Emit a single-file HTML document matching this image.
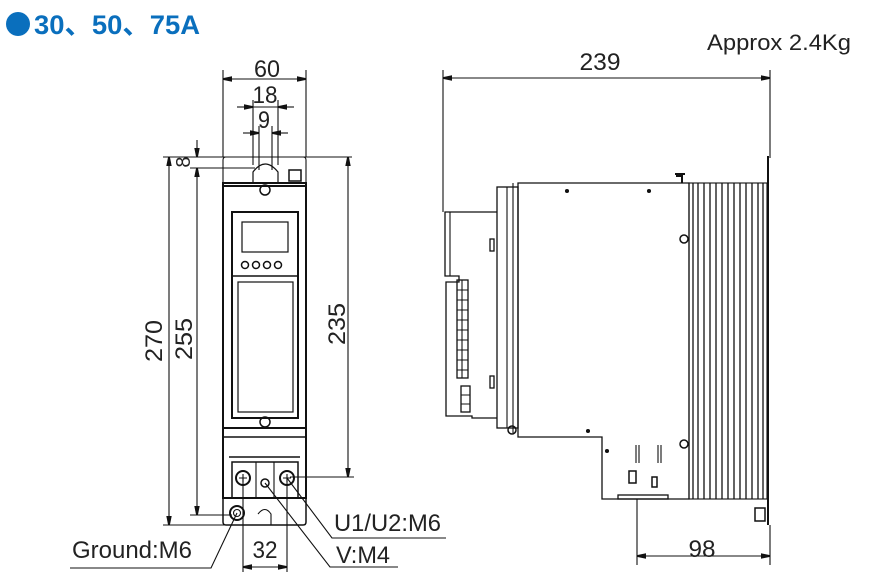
<!DOCTYPE html>
<html><head><meta charset="utf-8"><style>
html,body{margin:0;padding:0;background:#fff;}
svg{display:block;}
text{font-family:"Liberation Sans","Noto Sans CJK JP",sans-serif;fill:#222;}
</style></head><body>
<svg width="878" height="587" viewBox="0 0 878 587" xmlns="http://www.w3.org/2000/svg">
<defs>
<marker id="a" viewBox="0 0 10 6" refX="10" refY="3" markerWidth="9" markerHeight="6" orient="auto-start-reverse" markerUnits="userSpaceOnUse"><path d="M0,0L10,2L10,4L0,6z" fill="#111"/></marker>
</defs>
<!-- title -->
<circle cx="18" cy="24" r="12" fill="#0a6fbd"/>
<text x="34" y="34" font-size="27" font-weight="bold" style="fill:#0a6fbd" textLength="166" lengthAdjust="spacingAndGlyphs">30、50、75A</text>
<text x="707" y="50" font-size="22" textLength="144" lengthAdjust="spacingAndGlyphs">Approx 2.4Kg</text>

<g stroke="#111" fill="none" stroke-width="1.1">
<!-- FRONT VIEW dims -->
<line x1="223" y1="70" x2="223" y2="157"/><line x1="306" y1="70" x2="306" y2="157"/>
<line x1="223" y1="79" x2="306" y2="79" marker-start="url(#a)" marker-end="url(#a)"/>
<line x1="253" y1="100" x2="253" y2="165"/><line x1="278" y1="100" x2="278" y2="165"/>
<line x1="237" y1="107" x2="253" y2="107" marker-end="url(#a)"/><line x1="294" y1="107" x2="278" y2="107" marker-end="url(#a)"/>
<line x1="253" y1="107" x2="278" y2="107"/>
<line x1="259" y1="126" x2="259" y2="170"/><line x1="272" y1="126" x2="272" y2="170"/>
<line x1="243" y1="133" x2="259" y2="133" marker-end="url(#a)"/><line x1="288" y1="133" x2="272" y2="133" marker-end="url(#a)"/>
<line x1="163" y1="157" x2="352" y2="157"/>
<line x1="190" y1="168" x2="255" y2="168"/>
<line x1="197" y1="140" x2="197" y2="157" marker-end="url(#a)"/>
<line x1="197" y1="168" x2="197" y2="515" marker-start="url(#a)" marker-end="url(#a)"/>
<line x1="169" y1="157" x2="169" y2="525" marker-start="url(#a)" marker-end="url(#a)"/>
<line x1="163" y1="525" x2="235" y2="525"/>
<line x1="190" y1="515" x2="232" y2="515"/>
<line x1="348" y1="157" x2="348" y2="477" marker-start="url(#a)" marker-end="url(#a)"/>
<line x1="290" y1="477" x2="354" y2="477"/>
<!-- front body -->
<path d="M223,183 L223,160 Q223,157 226,157 L303,157 Q306,157 306,160 L306,183" />
<path d="M253,183 L253,172 Q265,156 278,172 L278,183" stroke-width="1.2"/>
<rect x="289" y="170" width="12" height="11" stroke-width="1.5"/>
<rect x="223" y="183" width="83" height="315" stroke-width="2"/>
<line x1="223" y1="186" x2="306" y2="186" stroke-width="2"/>
<circle cx="265" cy="190" r="5" stroke-width="1.5"/>
<rect x="232" y="212" width="66" height="206" stroke-width="2"/>
<rect x="242" y="222" width="46" height="30" stroke-width="1.2"/>
<circle cx="245" cy="265" r="3.5" stroke-width="1.5"/><circle cx="256" cy="265" r="3.5" stroke-width="1.5"/><circle cx="267" cy="265" r="3.5" stroke-width="1.5"/><circle cx="278" cy="265" r="3.5" stroke-width="1.5"/>
<line x1="232" y1="276" x2="298" y2="276" stroke-width="1.5"/>
<rect x="238" y="282" width="55" height="130" stroke-width="1.2"/>
<circle cx="265" cy="422" r="5" stroke-width="1.5"/>
<line x1="223" y1="428" x2="306" y2="428" stroke-width="2"/>
<line x1="223" y1="437" x2="306" y2="437" stroke-width="1.5"/>
<line x1="229" y1="457" x2="300" y2="457" stroke-width="1.5"/>
<rect x="232" y="462" width="66" height="36" stroke-width="1.5"/>
<line x1="256" y1="462" x2="256" y2="498"/><line x1="274" y1="462" x2="274" y2="498"/>
<circle cx="243" cy="478" r="7" stroke-width="2"/><path d="M239,478h8M243,474v8"/>
<circle cx="287" cy="478" r="7" stroke-width="2"/><path d="M283,478h8M287,474v8"/>
<circle cx="265" cy="483" r="4" stroke-width="1.5"/>
<path d="M223,498 L223,522 Q223,525 226,525 L303,525 Q306,525 306,522 L306,498" stroke-width="1.5"/>
<path d="M258,514 Q265,505 271,514 L271,525" />
<circle cx="237" cy="513" r="7" stroke-width="2"/><circle cx="237" cy="513" r="3.5"/>
<!-- 32 -->
<line x1="243" y1="478" x2="243" y2="572"/><line x1="287" y1="478" x2="287" y2="572"/>
<line x1="243" y1="567" x2="287" y2="567" marker-start="url(#a)" marker-end="url(#a)"/>
<!-- leaders -->
<polyline points="237,513 211,568 70,568"/>
<polyline points="265,483 330,567 398,567"/>
<polyline points="287,478 332,538 446,538"/>

<!-- SIDE VIEW -->
<line x1="443" y1="70" x2="443" y2="212"/><line x1="770" y1="70" x2="770" y2="158"/>
<line x1="443" y1="78" x2="770" y2="78" marker-start="url(#a)" marker-end="url(#a)"/>
<line x1="637" y1="499" x2="637" y2="565"/><line x1="770" y1="525" x2="770" y2="565"/>
<line x1="637" y1="556" x2="770" y2="556" marker-start="url(#a)" marker-end="url(#a)"/>
<line x1="768" y1="156" x2="768" y2="525" stroke-width="2"/>
<path d="M518,183 L689,183 L689,499 L602,499 L602,437 L518,437 Z" stroke-width="1.3"/>
<circle cx="567" cy="191" r="1.5" fill="#111"/><circle cx="649" cy="191" r="1.5" fill="#111"/>
<circle cx="588" cy="431" r="1.5" fill="#111"/><circle cx="607" cy="451" r="1.5" fill="#111"/>
<circle cx="684" cy="239" r="4" stroke-width="1.5"/><circle cx="684" cy="444" r="4" stroke-width="1.5"/>
<path d="M676,176 l6,0 l0,7 M675,174 h10" stroke-width="2"/>
<rect x="689" y="183" width="78" height="316"/>
<g stroke-width="1.3">
<line x1="693" y1="183" x2="693" y2="499"/><line x1="698" y1="183" x2="698" y2="499"/><line x1="704" y1="183" x2="704" y2="499"/><line x1="710" y1="183" x2="710" y2="499"/><line x1="716" y1="183" x2="716" y2="499"/><line x1="722" y1="183" x2="722" y2="499"/><line x1="728" y1="183" x2="728" y2="499"/><line x1="734" y1="183" x2="734" y2="499"/><line x1="740" y1="183" x2="740" y2="499"/><line x1="746" y1="183" x2="746" y2="499"/><line x1="752" y1="183" x2="752" y2="499"/><line x1="758" y1="183" x2="758" y2="499"/><line x1="763" y1="183" x2="763" y2="499"/>
</g>
<rect x="755" y="508" width="10" height="13" stroke-width="1.5"/>
<rect x="618" y="495" width="50" height="4" stroke-width="1.3"/>
<path d="M636,445v18M639,445v18M658,445v18M661,445v18"/>
<rect x="629" y="471" width="7" height="12" stroke-width="1.5"/><rect x="652" y="477" width="5" height="10" stroke-width="1.5"/>
<rect x="497" y="187" width="21" height="241" stroke-width="1.3"/>
<line x1="507" y1="187" x2="507" y2="428"/><line x1="513" y1="183" x2="513" y2="433"/>
<circle cx="512" cy="430" r="4" stroke-width="1.5"/>
<path d="M497,212 L445,212 L445,276 L459,276 L459,282 L446,282 L446,416 L472,416 L472,418 L497,418" stroke-width="1.3"/>
<line x1="450" y1="212" x2="450" y2="276"/>
<rect x="490" y="239" width="4" height="12" stroke-width="1.3"/><rect x="490" y="376" width="4" height="12" stroke-width="1.3"/>
<rect x="457" y="280" width="11" height="98" stroke-width="1.3"/>
<path d="M457,290h11M457,300h11M457,310h11M457,320h11M457,330h11M457,340h11M457,350h11M457,360h11M457,370h11M462,280v98"/>
<rect x="461" y="386" width="9" height="26" stroke-width="1.3"/>
<path d="M461,395h9M461,404h9"/>
</g>
<!-- labels -->
<g font-size="24">
<text x="267" y="77" text-anchor="middle" textLength="26" lengthAdjust="spacingAndGlyphs">60</text>
<text x="265" y="103" text-anchor="middle" textLength="25" lengthAdjust="spacingAndGlyphs">18</text>
<text x="264" y="128" text-anchor="middle" textLength="12" lengthAdjust="spacingAndGlyphs">9</text>
<text x="190" y="162" font-size="20" transform="rotate(-90 190 162)" text-anchor="middle">8</text>
<text x="162" y="341" transform="rotate(-90 162 341)" text-anchor="middle" textLength="42" lengthAdjust="spacingAndGlyphs">270</text>
<text x="192" y="339" transform="rotate(-90 192 339)" text-anchor="middle" textLength="42" lengthAdjust="spacingAndGlyphs">255</text>
<text x="345" y="324" transform="rotate(-90 345 324)" text-anchor="middle" textLength="42" lengthAdjust="spacingAndGlyphs">235</text>
<text x="600" y="70" text-anchor="middle" textLength="41" lengthAdjust="spacingAndGlyphs">239</text>
<text x="702" y="557" text-anchor="middle" textLength="27" lengthAdjust="spacingAndGlyphs">98</text>
<text x="265" y="558" text-anchor="middle" textLength="25" lengthAdjust="spacingAndGlyphs">32</text>
<text x="72" y="558" textLength="120" lengthAdjust="spacingAndGlyphs">Ground:M6</text>
<text x="334" y="531" textLength="107" lengthAdjust="spacingAndGlyphs">U1/U2:M6</text>
<text x="336" y="563" textLength="54" lengthAdjust="spacingAndGlyphs">V:M4</text>
</g>
</svg>
</body></html>
